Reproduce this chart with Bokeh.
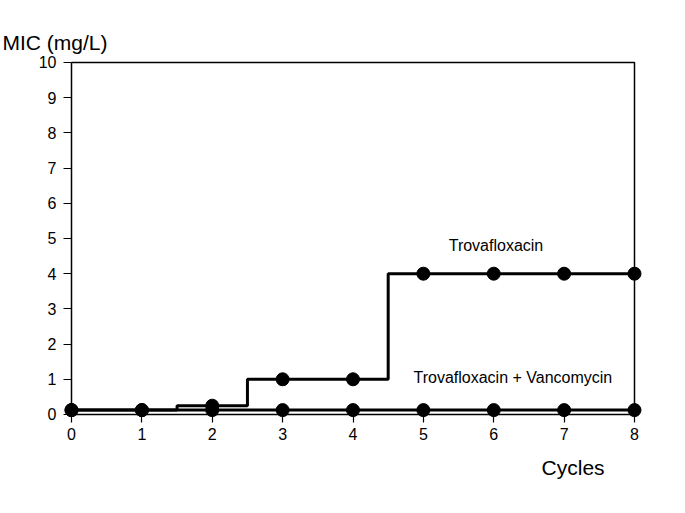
from bokeh.plotting import figure
from bokeh.models import Range1d, Label, FixedTicker
from bokeh.embed import file_html
from bokeh.resources import INLINE

# ---- data ----
cycles = [0, 1, 2, 3, 4, 5, 6, 7, 8]
trova = [0.125, 0.125, 0.25, 1, 1, 4, 4, 4, 4]
trova_vanco = [0.125, 0.125, 0.125, 0.125, 0.125, 0.125, 0.125, 0.125, 0.125]
x_ticks = [0, 1, 2, 3, 4, 5, 6, 7, 8]
y_ticks = [0, 1, 2, 3, 4, 5, 6, 7, 8, 9, 10]
y_title = "MIC (mg/L)"
x_title = "Cycles"
label_trova = "Trovafloxacin"
label_combo = "Trovafloxacin + Vancomycin"

FONT = "Liberation Sans"
X0, X1 = x_ticks[0], x_ticks[-1]
Y0, Y1 = y_ticks[0], y_ticks[-1]

W, H = 685, 513
p = figure(width=W, height=H, output_backend="svg", toolbar_location=None,
           x_range=Range1d(-1.0089, 8.7247), y_range=Range1d(-2.8125, 11.761),
           min_border_left=0, min_border_right=0, min_border_top=0, min_border_bottom=0)
p.outline_line_color = None
p.grid.visible = False
p.background_fill_color = "white"
p.border_fill_color = "white"

for ax, ticks, bounds in ((p.xaxis, x_ticks, (X0, X1)), (p.yaxis, y_ticks, (Y0, Y1))):
    ax.fixed_location = 0
    ax.bounds = bounds
    ax.ticker = FixedTicker(ticks=ticks)
    ax.major_tick_in = 0
    ax.major_tick_out = 8
    ax.minor_tick_line_color = None
    ax.axis_line_width = 1.5
    ax.major_tick_line_width = 1.2
    ax.axis_line_color = "black"
    ax.major_tick_line_color = "black"
    ax.major_label_text_font = FONT
    ax.major_label_text_font_size = "16px"
    ax.major_label_text_color = "black"
p.xaxis.major_label_standoff = 6
p.yaxis.major_label_standoff = 7

# top and right frame lines
p.line([X0, X1, X1], [Y1, Y1, Y0], line_color="black", line_width=1.5)

# series
p.step(cycles, trova_vanco, mode="center", line_color="black", line_width=3)
p.step(cycles, trova, mode="center", line_color="black", line_width=3)
p.scatter(cycles, trova_vanco, size=13, fill_color="black", line_color="black")
p.scatter(cycles, trova, size=13, fill_color="black", line_color="black")

# labels
def add_text(x, y, txt, size):
    p.add_layout(Label(x=x, y=y, text=txt, text_font=FONT, text_font_size=size,
                       text_color="black", text_baseline="middle", text_align="left"))

add_text(-0.98, 10.57, y_title, "21px")
add_text(6.68, -1.506, x_title, "21px")
add_text(5.36, 4.80, label_trova, "16px")
add_text(4.86, 1.037, label_combo, "16px")

open("out.html", "w").write(file_html(p, INLINE))
